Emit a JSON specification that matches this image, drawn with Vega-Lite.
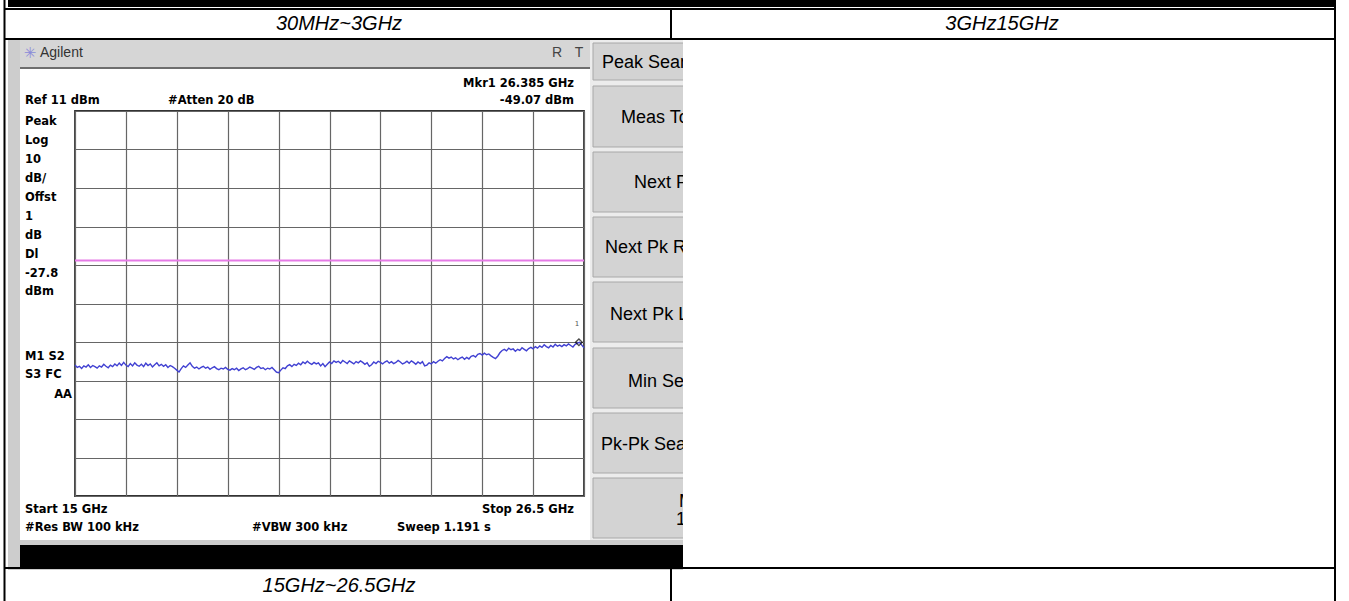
{
"$schema": "https://vega.github.io/schema/vega-lite/v6.json",
"width": 509, "height": 385,
"autosize": {"type": "none"},
"padding": {"left": 75, "top": 111, "right": 765, "bottom": 105},
"background": "white",
"data": {"values": [{}]},
"datasets": {"trace": [
{"f":15.00,"dbm":-55.0},{"f":15.05,"dbm":-55.6},{"f":15.10,"dbm":-55.3},{"f":15.15,"dbm":-55.9},{"f":15.20,"dbm":-55.2},{"f":15.25,"dbm":-55.5},{"f":15.30,"dbm":-54.9},{"f":15.35,"dbm":-55.6},{"f":15.40,"dbm":-55.1},{"f":15.45,"dbm":-55.4},
{"f":15.50,"dbm":-55.8},{"f":15.55,"dbm":-55.2},{"f":15.60,"dbm":-55.5},{"f":15.65,"dbm":-54.8},{"f":15.70,"dbm":-55.3},{"f":15.75,"dbm":-55.7},{"f":15.80,"dbm":-55.0},{"f":15.85,"dbm":-55.4},{"f":15.90,"dbm":-54.7},{"f":15.95,"dbm":-55.2},
{"f":16.00,"dbm":-54.5},{"f":16.05,"dbm":-55.1},{"f":16.10,"dbm":-54.3},{"f":16.15,"dbm":-55.0},{"f":16.20,"dbm":-55.4},{"f":16.25,"dbm":-54.6},{"f":16.30,"dbm":-55.2},{"f":16.35,"dbm":-54.4},{"f":16.40,"dbm":-55.0},{"f":16.45,"dbm":-55.3},
{"f":16.50,"dbm":-54.8},{"f":16.55,"dbm":-55.4},{"f":16.60,"dbm":-54.5},{"f":16.65,"dbm":-55.1},{"f":16.70,"dbm":-54.7},{"f":16.75,"dbm":-55.5},{"f":16.80,"dbm":-54.9},{"f":16.85,"dbm":-54.4},{"f":16.90,"dbm":-55.2},{"f":16.95,"dbm":-54.8},
{"f":17.00,"dbm":-55.3},{"f":17.05,"dbm":-54.9},{"f":17.10,"dbm":-55.6},{"f":17.15,"dbm":-55.1},{"f":17.20,"dbm":-55.4},{"f":17.25,"dbm":-55.8},{"f":17.30,"dbm":-56.3},{"f":17.35,"dbm":-56.8},{"f":17.40,"dbm":-55.9},{"f":17.45,"dbm":-55.2},
{"f":17.50,"dbm":-55.6},{"f":17.55,"dbm":-55.0},{"f":17.60,"dbm":-54.4},{"f":17.65,"dbm":-55.3},{"f":17.70,"dbm":-55.8},{"f":17.75,"dbm":-55.5},{"f":17.80,"dbm":-56.0},{"f":17.85,"dbm":-55.6},{"f":17.90,"dbm":-55.3},{"f":17.95,"dbm":-55.8},
{"f":18.00,"dbm":-55.5},{"f":18.05,"dbm":-56.1},{"f":18.10,"dbm":-55.7},{"f":18.15,"dbm":-55.4},{"f":18.20,"dbm":-55.9},{"f":18.25,"dbm":-56.2},{"f":18.30,"dbm":-55.8},{"f":18.35,"dbm":-56.0},{"f":18.40,"dbm":-55.6},{"f":18.45,"dbm":-56.1},
{"f":18.50,"dbm":-56.3},{"f":18.55,"dbm":-55.9},{"f":18.60,"dbm":-56.2},{"f":18.65,"dbm":-55.8},{"f":18.70,"dbm":-56.4},{"f":18.75,"dbm":-56.0},{"f":18.80,"dbm":-55.7},{"f":18.85,"dbm":-56.2},{"f":18.90,"dbm":-55.9},{"f":18.95,"dbm":-55.5},
{"f":19.00,"dbm":-55.8},{"f":19.05,"dbm":-56.1},{"f":19.10,"dbm":-55.6},{"f":19.15,"dbm":-55.3},{"f":19.20,"dbm":-55.9},{"f":19.25,"dbm":-55.7},{"f":19.30,"dbm":-56.2},{"f":19.35,"dbm":-55.8},{"f":19.40,"dbm":-56.0},{"f":19.45,"dbm":-55.6},
{"f":19.50,"dbm":-56.2},{"f":19.55,"dbm":-56.8},{"f":19.60,"dbm":-57.0},{"f":19.65,"dbm":-56.3},{"f":19.70,"dbm":-55.7},{"f":19.75,"dbm":-55.9},{"f":19.80,"dbm":-55.2},{"f":19.85,"dbm":-54.9},{"f":19.90,"dbm":-55.4},{"f":19.95,"dbm":-54.8},
{"f":20.00,"dbm":-55.1},{"f":20.05,"dbm":-54.5},{"f":20.10,"dbm":-54.9},{"f":20.15,"dbm":-54.2},{"f":20.20,"dbm":-54.6},{"f":20.25,"dbm":-54.0},{"f":20.30,"dbm":-54.5},{"f":20.35,"dbm":-54.8},{"f":20.40,"dbm":-54.3},{"f":20.45,"dbm":-54.7},
{"f":20.50,"dbm":-54.4},{"f":20.55,"dbm":-55.2},{"f":20.60,"dbm":-54.6},{"f":20.65,"dbm":-55.4},{"f":20.70,"dbm":-54.8},{"f":20.75,"dbm":-54.2},{"f":20.80,"dbm":-54.6},{"f":20.85,"dbm":-53.9},{"f":20.90,"dbm":-54.3},{"f":20.95,"dbm":-54.0},
{"f":21.00,"dbm":-54.5},{"f":21.05,"dbm":-53.8},{"f":21.10,"dbm":-54.2},{"f":21.15,"dbm":-54.6},{"f":21.20,"dbm":-53.9},{"f":21.25,"dbm":-54.3},{"f":21.30,"dbm":-54.7},{"f":21.35,"dbm":-54.1},{"f":21.40,"dbm":-54.4},{"f":21.45,"dbm":-53.9},
{"f":21.50,"dbm":-54.3},{"f":21.55,"dbm":-54.8},{"f":21.60,"dbm":-54.4},{"f":21.65,"dbm":-55.3},{"f":21.70,"dbm":-54.9},{"f":21.75,"dbm":-54.2},{"f":21.80,"dbm":-54.6},{"f":21.85,"dbm":-54.0},{"f":21.90,"dbm":-54.3},{"f":21.95,"dbm":-54.7},
{"f":22.00,"dbm":-54.2},{"f":22.05,"dbm":-53.9},{"f":22.10,"dbm":-54.5},{"f":22.15,"dbm":-54.1},{"f":22.20,"dbm":-54.6},{"f":22.25,"dbm":-54.3},{"f":22.30,"dbm":-53.8},{"f":22.35,"dbm":-54.2},{"f":22.40,"dbm":-54.7},{"f":22.45,"dbm":-54.4},
{"f":22.50,"dbm":-54.0},{"f":22.55,"dbm":-54.5},{"f":22.60,"dbm":-53.9},{"f":22.65,"dbm":-54.3},{"f":22.70,"dbm":-54.8},{"f":22.75,"dbm":-54.2},{"f":22.80,"dbm":-54.6},{"f":22.85,"dbm":-54.1},{"f":22.90,"dbm":-55.2},{"f":22.95,"dbm":-55.0},
{"f":23.00,"dbm":-54.4},{"f":23.05,"dbm":-54.7},{"f":23.10,"dbm":-54.1},{"f":23.15,"dbm":-54.5},{"f":23.20,"dbm":-54.0},{"f":23.25,"dbm":-53.6},{"f":23.30,"dbm":-53.9},{"f":23.35,"dbm":-53.3},{"f":23.40,"dbm":-52.8},{"f":23.45,"dbm":-53.2},
{"f":23.50,"dbm":-52.9},{"f":23.55,"dbm":-53.4},{"f":23.60,"dbm":-53.1},{"f":23.65,"dbm":-53.6},{"f":23.70,"dbm":-53.2},{"f":23.75,"dbm":-52.9},{"f":23.80,"dbm":-53.5},{"f":23.85,"dbm":-53.0},{"f":23.90,"dbm":-53.4},{"f":23.95,"dbm":-52.7},
{"f":24.00,"dbm":-52.5},{"f":24.05,"dbm":-52.9},{"f":24.10,"dbm":-52.2},{"f":24.15,"dbm":-52.0},{"f":24.20,"dbm":-52.4},{"f":24.25,"dbm":-51.9},{"f":24.30,"dbm":-52.3},{"f":24.35,"dbm":-52.1},{"f":24.40,"dbm":-52.6},{"f":24.45,"dbm":-53.0},
{"f":24.50,"dbm":-53.3},{"f":24.55,"dbm":-52.7},{"f":24.60,"dbm":-51.8},{"f":24.65,"dbm":-51.2},{"f":24.70,"dbm":-50.9},{"f":24.75,"dbm":-51.3},{"f":24.80,"dbm":-50.6},{"f":24.85,"dbm":-51.0},{"f":24.90,"dbm":-50.8},{"f":24.95,"dbm":-51.4},
{"f":25.00,"dbm":-50.9},{"f":25.05,"dbm":-51.2},{"f":25.10,"dbm":-50.5},{"f":25.15,"dbm":-50.9},{"f":25.20,"dbm":-51.3},{"f":25.25,"dbm":-50.7},{"f":25.30,"dbm":-50.4},{"f":25.35,"dbm":-50.8},{"f":25.40,"dbm":-50.2},{"f":25.45,"dbm":-50.6},
{"f":25.50,"dbm":-50.0},{"f":25.55,"dbm":-50.4},{"f":25.60,"dbm":-49.7},{"f":25.65,"dbm":-50.2},{"f":25.70,"dbm":-50.5},{"f":25.75,"dbm":-49.9},{"f":25.80,"dbm":-50.3},{"f":25.85,"dbm":-49.6},{"f":25.90,"dbm":-50.1},{"f":25.95,"dbm":-49.8},
{"f":26.00,"dbm":-50.2},{"f":26.05,"dbm":-49.7},{"f":26.10,"dbm":-50.0},{"f":26.15,"dbm":-49.5},{"f":26.20,"dbm":-49.9},{"f":26.25,"dbm":-50.3},{"f":26.30,"dbm":-49.6},{"f":26.35,"dbm":-49.3},{"f":26.40,"dbm":-49.1},{"f":26.45,"dbm":-49.8},
{"f":26.50,"dbm":-50.5}
]},
"config": {
  "view": {"stroke": "#333333", "strokeWidth": 1.8},
  "axis": {"labels": false, "ticks": false, "domain": false, "grid": true, "gridColor": "#666666", "gridWidth": 1.2, "gridOpacity": 1},
  "style": {
    "inst": {"font": "DejaVu Sans", "fontSize": 11.5, "fontWeight": "bold", "fill": "#111111", "baseline": "middle", "align": "left"},
    "soft": {"font": "Liberation Sans", "fontSize": 18, "fill": "#404040", "baseline": "middle", "align": "left"},
    "cap": {"font": "Liberation Sans", "fontSize": 20, "fontStyle": "italic", "fill": "#000000", "baseline": "middle", "align": "center"}
  }
},
"layer": [
  {"mark": {"type": "rect", "color": "#000000"}, "encoding": {"x": {"datum": 13.4862}, "x2": {"datum": 43.445}, "y": {"datum": 39.831}, "y2": {"datum": 38.013}}},
  {"mark": {"type": "rect", "color": "#d6d6d6"}, "encoding": {"x": {"datum": 13.4862}, "x2": {"datum": 28.7367}, "y": {"datum": 29.4416}, "y2": {"datum": 22.4286}}},
  {"mark": {"type": "rect", "color": "#cdcdcd"}, "encoding": {"x": {"datum": 13.4862}, "x2": {"datum": 13.7574}, "y": {"datum": 29.4416}, "y2": {"datum": -108.2208}}},
  {"mark": {"type": "rect", "color": "#cdcdcd"}, "encoding": {"x": {"datum": 13.4862}, "x2": {"datum": 28.7367}, "y": {"datum": -100.4286}, "y2": {"datum": -108.2208}}},
  {"mark": {"type": "rect", "color": "#000000"}, "encoding": {"x": {"datum": 13.7574}, "x2": {"datum": 28.7367}, "y": {"datum": -101.7273}, "y2": {"datum": -107.4416}}},
  {"mark": {"type": "rule", "color": "#6e6e6e", "strokeWidth": 2}, "encoding": {"x": {"datum": 13.7574}, "x2": {"datum": 26.6356}, "y": {"datum": 22.1688}}},
  {"mark": {"type": "rect", "color": "#ececec"}, "encoding": {"x": {"datum": 26.6356}, "x2": {"datum": 28.7367}, "y": {"datum": 29.4416}, "y2": {"datum": -100.4286}}},
  {"mark": {"type": "rect", "fill": "#d3d3d3", "stroke": "#a8a8a8", "strokeWidth": 1}, "encoding": {"x": {"datum": 26.7034}, "x2": {"datum": 29.0}, "y": {"datum": 28.6623}, "y2": {"datum": 19.0519}}},
  {"mark": {"type": "rect", "fill": "#d3d3d3", "stroke": "#a8a8a8", "strokeWidth": 1}, "encoding": {"x": {"datum": 26.7034}, "x2": {"datum": 29.0}, "y": {"datum": 17.4935}, "y2": {"datum": 1.6494}}},
  {"mark": {"type": "rect", "fill": "#d3d3d3", "stroke": "#a8a8a8", "strokeWidth": 1}, "encoding": {"x": {"datum": 26.7034}, "x2": {"datum": 29.0}, "y": {"datum": 0.3506}, "y2": {"datum": -15.2338}}},
  {"mark": {"type": "rect", "fill": "#d3d3d3", "stroke": "#a8a8a8", "strokeWidth": 1}, "encoding": {"x": {"datum": 26.7034}, "x2": {"datum": 29.0}, "y": {"datum": -16.5325}, "y2": {"datum": -32.1169}}},
  {"mark": {"type": "rect", "fill": "#d3d3d3", "stroke": "#a8a8a8", "strokeWidth": 1}, "encoding": {"x": {"datum": 26.7034}, "x2": {"datum": 29.0}, "y": {"datum": -33.4156}, "y2": {"datum": -49.0}}},
  {"mark": {"type": "rect", "fill": "#d3d3d3", "stroke": "#a8a8a8", "strokeWidth": 1}, "encoding": {"x": {"datum": 26.7034}, "x2": {"datum": 29.0}, "y": {"datum": -50.5584}, "y2": {"datum": -66.1429}}},
  {"mark": {"type": "rect", "fill": "#d3d3d3", "stroke": "#a8a8a8", "strokeWidth": 1}, "encoding": {"x": {"datum": 26.7034}, "x2": {"datum": 29.0}, "y": {"datum": -67.4416}, "y2": {"datum": -83.026}}},
  {"mark": {"type": "rect", "fill": "#d3d3d3", "stroke": "#a8a8a8", "strokeWidth": 1}, "encoding": {"x": {"datum": 26.7034}, "x2": {"datum": 29.0}, "y": {"datum": -84.3247}, "y2": {"datum": -99.9091}}},
  {"mark": {"type": "text", "style": "soft"}, "encoding": {"x": {"datum": 26.9067}, "y": {"datum": 23.4675}, "text": {"value": "Peak Search"}}},
  {"mark": {"type": "text", "style": "soft"}, "encoding": {"x": {"datum": 27.3359}, "y": {"datum": 9.1818}, "text": {"value": "Meas Tools"}}},
  {"mark": {"type": "text", "style": "soft"}, "encoding": {"x": {"datum": 27.6297}, "y": {"datum": -7.7013}, "text": {"value": "Next Peak"}}},
  {"mark": {"type": "text", "style": "soft"}, "encoding": {"x": {"datum": 26.9745}, "y": {"datum": -24.5844}, "text": {"value": "Next Pk Right"}}},
  {"mark": {"type": "text", "style": "soft"}, "encoding": {"x": {"datum": 27.09}, "y": {"datum": -41.987}, "text": {"value": "Next Pk Left"}}},
  {"mark": {"type": "text", "style": "soft"}, "encoding": {"x": {"datum": 27.4941}, "y": {"datum": -59.3896}, "text": {"value": "Min Search"}}},
  {"mark": {"type": "text", "style": "soft"}, "encoding": {"x": {"datum": 26.8841}, "y": {"datum": -75.7532}, "text": {"value": "Pk-Pk Search"}}},
  {"mark": {"type": "text", "style": "soft"}, "encoding": {"x": {"datum": 28.6463}, "y": {"datum": -90.5584}, "text": {"value": "More"}}},
  {"mark": {"type": "text", "style": "soft"}, "encoding": {"x": {"datum": 28.5786}, "y": {"datum": -95.2338}, "text": {"value": "1 of 2"}}},
  {"mark": {"type": "rect", "color": "#ffffff"}, "encoding": {"x": {"datum": 28.7367}, "x2": {"datum": 43.445}, "y": {"datum": 29.1818}, "y2": {"datum": -107.4416}}},
  {"mark": {"type": "text", "font": "DejaVu Sans", "fontSize": 15, "fill": "#8b8bd9", "align": "center", "baseline": "middle"}, "encoding": {"x": {"datum": 13.9833}, "y": {"datum": 26.0649}, "text": {"value": "✳"}}},
  {"mark": {"type": "text", "font": "Liberation Sans", "fontSize": 14, "fill": "#333333", "align": "left", "baseline": "middle"}, "encoding": {"x": {"datum": 14.2092}, "y": {"datum": 26.0649}, "text": {"value": "Agilent"}}},
  {"mark": {"type": "text", "font": "Liberation Sans", "fontSize": 14, "fill": "#444444", "align": "center", "baseline": "middle"}, "encoding": {"x": {"datum": 25.89}, "y": {"datum": 26.0649}, "text": {"value": "R"}}},
  {"mark": {"type": "text", "font": "Liberation Sans", "fontSize": 14, "fill": "#444444", "align": "center", "baseline": "middle"}, "encoding": {"x": {"datum": 26.3871}, "y": {"datum": 26.0649}, "text": {"value": "T"}}},
  {"mark": {"type": "text", "style": "inst", "align": "right"}, "encoding": {"x": {"datum": 26.2741}, "y": {"datum": 18.013}, "text": {"value": "Mkr1  26.385 GHz"}}},
  {"mark": {"type": "text", "style": "inst"}, "encoding": {"x": {"datum": 13.8703}, "y": {"datum": 13.5974}, "text": {"value": "Ref 11 dBm"}}},
  {"mark": {"type": "text", "style": "inst"}, "encoding": {"x": {"datum": 17.1012}, "y": {"datum": 13.5974}, "text": {"value": "#Atten 20 dB"}}},
  {"mark": {"type": "text", "style": "inst", "align": "right"}, "encoding": {"x": {"datum": 26.2741}, "y": {"datum": 13.5974}, "text": {"value": "-49.07 dBm"}}},
  {"mark": {"type": "text", "style": "inst", "baseline": "top", "lineBreak": "\n", "lineHeight": 18.9}, "encoding": {"x": {"datum": 13.8703}, "y": {"datum": 9.6104}, "text": {"value": "Peak\nLog\n10\ndB/\nOffst\n1\ndB\nDl\n-27.8\ndBm"}}},
  {"mark": {"type": "text", "style": "inst"}, "encoding": {"x": {"datum": 13.8703}, "y": {"datum": -52.8961}, "text": {"value": "M1  S2"}}},
  {"mark": {"type": "text", "style": "inst"}, "encoding": {"x": {"datum": 13.8703}, "y": {"datum": -57.5714}, "text": {"value": "S3  FC"}}},
  {"mark": {"type": "text", "style": "inst", "align": "right"}, "encoding": {"x": {"datum": 14.9322}, "y": {"datum": -62.7662}, "text": {"value": "AA"}}},
  {"mark": {"type": "text", "style": "inst"}, "encoding": {"x": {"datum": 13.8703}, "y": {"datum": -92.6364}, "text": {"value": "Start 15 GHz"}}},
  {"mark": {"type": "text", "style": "inst", "align": "right"}, "encoding": {"x": {"datum": 26.2741}, "y": {"datum": -92.6364}, "text": {"value": "Stop 26.5 GHz"}}},
  {"mark": {"type": "text", "style": "inst"}, "encoding": {"x": {"datum": 13.8703}, "y": {"datum": -97.3117}, "text": {"value": "#Res BW 100 kHz"}}},
  {"mark": {"type": "text", "style": "inst"}, "encoding": {"x": {"datum": 18.999}, "y": {"datum": -97.3117}, "text": {"value": "#VBW 300 kHz"}}},
  {"mark": {"type": "text", "style": "inst"}, "encoding": {"x": {"datum": 22.2751}, "y": {"datum": -97.3117}, "text": {"value": "Sweep 1.191 s"}}},
  {"mark": {"type": "rule", "color": "#e57be6", "strokeWidth": 2}, "encoding": {"y": {"datum": -27.8}}},
  {"data": {"name": "trace"}, "mark": {"type": "line", "color": "#4141d2", "strokeWidth": 1.4},
   "encoding": {
     "x": {"field": "f", "type": "quantitative", "scale": {"domain": [15, 26.5], "nice": false, "zero": false}, "axis": {"values": [15, 16.15, 17.3, 18.45, 19.6, 20.75, 21.9, 23.05, 24.2, 25.35, 26.5], "tickCount": 30, "title": null}},
     "y": {"field": "dbm", "type": "quantitative", "scale": {"domain": [-89, 11], "nice": false, "zero": false}, "axis": {"values": [-89, -79, -69, -59, -49, -39, -29, -19, -9, 1, 11], "tickCount": 30, "title": null}}
   }},
  {"mark": {"type": "point", "shape": "diamond", "filled": false, "color": "#000000", "size": 45, "strokeWidth": 1.3}, "encoding": {"x": {"datum": 26.385}, "y": {"datum": -49.07}}},
  {"mark": {"type": "text", "font": "DejaVu Sans", "fontSize": 7, "fill": "#555555", "align": "center", "baseline": "middle"}, "encoding": {"x": {"datum": 26.3418}, "y": {"datum": -44.3247}, "text": {"value": "1"}}},
  {"mark": {"type": "text", "style": "cap"}, "encoding": {"x": {"datum": 20.9647}, "y": {"datum": 33.5974}, "text": {"value": "30MHz~3GHz"}}},
  {"mark": {"type": "text", "style": "cap"}, "encoding": {"x": {"datum": 35.944}, "y": {"datum": 33.5974}, "text": {"value": "3GHz15GHz"}}},
  {"mark": {"type": "text", "style": "cap"}, "encoding": {"x": {"datum": 20.9647}, "y": {"datum": -112.377}, "text": {"value": "15GHz~26.5GHz"}}},
  {"mark": {"type": "rule", "color": "#000000", "strokeWidth": 2}, "encoding": {"x": {"datum": 13.4072}, "y": {"datum": 39.831}, "y2": {"datum": -116.273}}},
  {"mark": {"type": "rule", "color": "#000000", "strokeWidth": 2}, "encoding": {"x": {"datum": 43.4676}, "y": {"datum": 39.831}, "y2": {"datum": -116.273}}},
  {"mark": {"type": "rule", "color": "#000000", "strokeWidth": 2}, "encoding": {"x": {"datum": 28.4656}, "y": {"datum": 37.494}, "y2": {"datum": 29.701}}},
  {"mark": {"type": "rule", "color": "#000000", "strokeWidth": 2}, "encoding": {"x": {"datum": 28.4656}, "y": {"datum": -107.701}, "y2": {"datum": -116.273}}},
  {"mark": {"type": "rule", "color": "#000000", "strokeWidth": 2}, "encoding": {"x": {"datum": 13.4072}, "x2": {"datum": 43.4676}, "y": {"datum": 37.494}}},
  {"mark": {"type": "rule", "color": "#000000", "strokeWidth": 2}, "encoding": {"x": {"datum": 13.4072}, "x2": {"datum": 43.4676}, "y": {"datum": 29.701}}},
  {"mark": {"type": "rule", "color": "#000000", "strokeWidth": 2}, "encoding": {"x": {"datum": 13.4072}, "x2": {"datum": 43.4676}, "y": {"datum": -107.701}}}
]
}
